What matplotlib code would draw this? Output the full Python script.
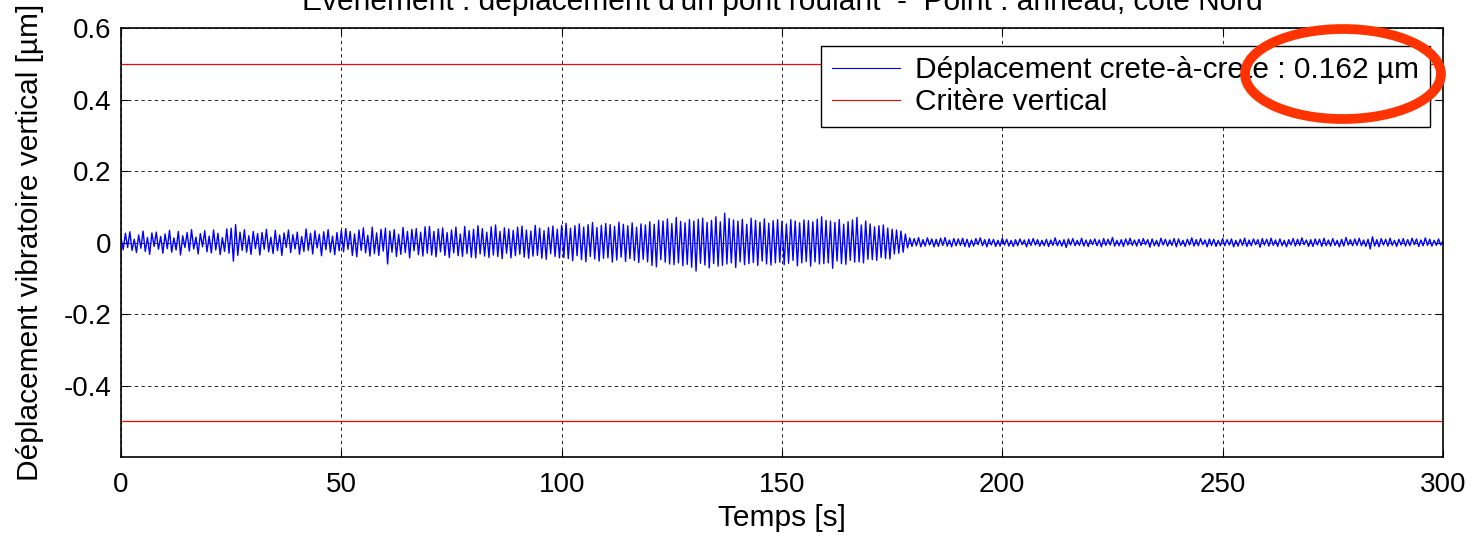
import numpy as np
import matplotlib.pyplot as plt
from matplotlib.patches import Ellipse

plt.rcParams['font.family'] = ['Liberation Sans', 'DejaVu Sans']

# Vertical displacement, one sample every 0.5 s, in nm (one row = 10 s)
disp_nm = [
    12, -20, 26, -14, 30, -22, 9, -28, 21, -16, 32, -25, 14, -33, 27, -11, 29, -19, 17, -30,
    24, -17, 34, -27, 13, -21, 31, -35, 19, -14, 28, -24, 36, -18, 15, -32, 25, -12, 33, -26,
    18, -29, 35, -21, 26, -34, 14, -25, 38, -30, 40, -52, 50, -36, 29, -22, 36, -27, 19, -33,
    31, -17, 25, -35, 28, -19, 37, -26, 15, -31, 34, -23, 21, -36, 27, -14, 35, -28, 22, -18,
    29, -33, 17, -25, 38, -22, 26, -32, 33, -15, 23, -37, 30, -20, 36, -27, 18, -34, 28, -23,
    34, -26, 39, -19, 31, -36, 24, -40, 35, -22, 41, -29, 20, -38, 43, -31, 27, -36, 37, -24,
    40, -60, 32, -27, 36, -39, 23, -33, 42, -28, 31, -43, 37, -23, 39, -34, 29, -38, 44, -30,
    45, -35, 31, -40, 38, -26, 41, -36, 28, -42, 35, -29, 43, -37, 24, -39, 45, -31, 33, -41,
    37, -43, 47, -32, 39, -38, 29, -42, 44, -35, 49, -39, 31, -45, 41, -30, 38, -43, 34, -37,
    43, -33, 46, -41, 35, -44, 32, -38, 48, -36, 40, -44, 33, -47, 42, -31, 46, -39, 37, -43,
    48, -42, 54, -45, 40, -51, 47, -37, 52, -48, 43, -54, 50, -39, 56, -46, 42, -52, 48, -44,
    53, -43, 50, -55, 45, -49, 57, -41, 51, -53, 47, -45, 55, -50, 43, -56, 52, -47, 49, -54,
    58, -64, 51, -68, 62, -48, 60, -55, 66, -60, 53, -62, 70, -57, 59, -65, 55, -61, 64, -69,
    60, -80, 65, -58, 68, -63, 56, -71, 62, -59, 72, -66, 58, -64, 82, -60, 67, -57, 63, -70,
    60, -54, 65, -62, 51, -59, 68, -56, 62, -64, 57, -52, 66, -60, 54, -63, 61, -57, 64, -55,
    59, -62, 52, -58, 64, -50, 60, -65, 55, -57, 63, -53, 61, -66, 58, -54, 65, -60, 72, -59,
    62, -57, 60, -72, 56, -52, 64, -59, 51, -61, 58, -50, 63, -55, 70, -54, 49, -57, 60, -47,
    52, -48, 44, -50, 47, -42, 49, -45, 40, -46, 37, -32, 35, -30, 32, -27, 24, -15, 13, -11,
    11, -9, 14, -12, 8, -10, 13, -7, 10, -12, 9, -11, 12, -8, 14, -10, 7, -12, 11, -9,
    10, -8, 12, -11, 9, -13, 7, -10, 11, -6, 13, -9, 8, -12, 10, -7, 9, -11, 6, -10,
    12, -7, 9, -10, 6, -11, 8, -9, 10, -6, 7, -12, 9, -8, 11, -7, 8, -10, 6, -9,
    9, -11, 7, -8, 13, -9, 6, -10, 8, -14, 10, -7, 11, -9, 6, -8, 12, -10, 7, -11,
    8, -6, 10, -9, 7, -12, 11, -8, 9, -7, 14, -10, 6, -9, 8, -11, 10, -7, 12, -8,
    7, -10, 9, -8, 11, -6, 8, -13, 10, -9, 6, -11, 12, -7, 9, -10, 7, -8, 11, -12,
    10, -8, 6, -11, 9, -7, 13, -10, 8, -9, 11, -6, 7, -12, 10, -8, 9, -11, 6, -9,
    11, -9, 8, -7, 10, -12, 6, -10, 9, -8, 12, -11, 7, -9, 10, -6, 8, -13, 11, -7,
    9, -10, 12, -8, 7, -11, 10, -9, 6, -12, 8, -7, 11, -10, 9, -8, 13, -6, 7, -11,
    8, -11, 10, -7, 9, -11, 12, -9, 7, -10, 11, -8, 6, -12, 9, -10, 14, -7, 8, -9,
    10, -8, 12, -9, 7, -11, 9, -18, 16, -10, 8, -12, 11, -7, 9, -10, 12, -8, 6, -11,
    9, -7, 11, -10, 8, -9, 12, -6, 10, -11, 7, -9, 13, -8, 9, -10, 6, -8, 10, -7,
    5,
]
dt = 0.5
criterion = 0.5  # vertical criterion [µm]

disp = np.array(disp_nm) / 1000.0
t = np.arange(len(disp)) * dt
crete = disp.max() - disp.min()

fig = plt.figure(figsize=(14.76, 5.42), dpi=100)
ax = fig.add_axes([0.082, 0.1568, 0.8956, 0.7915])

ax.plot(t, disp, color='#0000ff', lw=1.0,
        label='Déplacement crete-à-crete : %.3f µm' % crete)
ax.plot([0, 300], [criterion, criterion], color='#ff0000', lw=0.9,
        label='Critère vertical')
ax.plot([0, 300], [-criterion, -criterion], color='#ff0000', lw=0.9)

ax.set_xlim(0, 300)
ax.set_ylim(-0.6, 0.6)
ax.set_xticks([0, 50, 100, 150, 200, 250, 300])
ax.set_yticks([-0.4, -0.2, 0, 0.2, 0.4, 0.6])
ax.set_yticklabels(['-0.4', '-0.2', '0', '0.2', '0.4', '0.6'])
ax.tick_params(direction='in', length=5, width=0.8, top=True, right=True,
               labelsize=20)
ax.tick_params(axis='x', pad=11)
ax.tick_params(axis='y', pad=7)
ax.grid(True, color='black', linestyle=(0, (4, 4)), lw=0.6)
for s in ax.spines.values():
    s.set_linewidth(1.2)

ax.set_xlabel('Temps [s]', fontsize=21.5, labelpad=4)
ax.set_ylabel('Déplacement vibratoire vertical [µm]', fontsize=21.5, labelpad=14)
ax.set_title("Événement : déplacement d'un pont roulant  -  Point : anneau, côté Nord",
             fontsize=21.5, pad=13)

leg = ax.legend(loc='upper right', bbox_to_anchor=(0.990, 0.958), borderaxespad=0,
                fontsize=21.5, fancybox=False, framealpha=1, edgecolor='black',
                handlelength=2.3, handletextpad=0.5, labelspacing=0.12,
                borderpad=0.35)
leg.get_frame().set_linewidth(1.0)
for h in leg.get_lines():
    h.set_linewidth(0.8)

# highlight around the peak-to-peak value
ell = Ellipse((1343 / 1476, 1 - 74 / 542), 196 / 1476, 90 / 542,
              transform=fig.transFigure, fill=False, edgecolor='#ff3300',
              lw=7, zorder=10, clip_on=False)
fig.add_artist(ell)

fig.savefig('out.png', dpi=100)
